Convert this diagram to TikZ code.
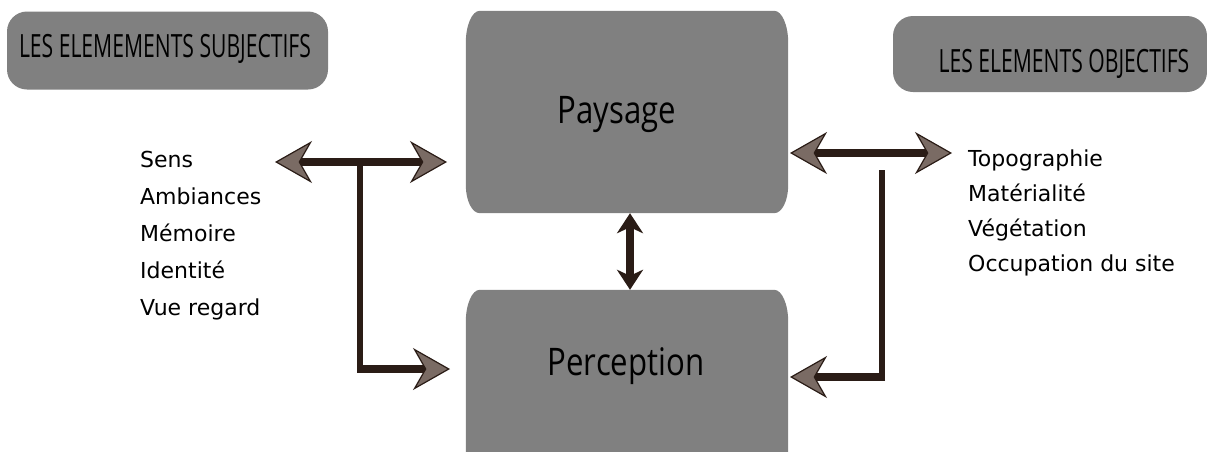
\documentclass[tikz,border=0pt]{standalone}
\usepackage{fontspec}
\setmainfont{Open Sans}
\newfontfamily\listfont{DejaVu Sans}
\usetikzlibrary{arrows.meta}
\definecolor{boxgray}{RGB}{128,128,128}
\definecolor{shaftbrown}{RGB}{42,28,22}
\definecolor{tipbrown}{RGB}{122,107,100}
\newcommand{\squeezed}[2]{\scalebox{#1}[1]{#2}}
% box with flattened (elliptical) corners, drawn from a node's anchors
\newcommand{\capsule}[1]{%
  \fill[boxgray] ([xshift=14pt]#1.north west) -- ([xshift=-14pt]#1.north east)
    arc[start angle=90, end angle=0, x radius=14pt, y radius=32pt]
    -- ([yshift=28pt]#1.south east)
    arc[start angle=0, end angle=-90, x radius=14pt, y radius=28pt]
    -- ([xshift=14pt]#1.south west)
    arc[start angle=270, end angle=180, x radius=14pt, y radius=28pt]
    -- ([yshift=-32pt]#1.north west)
    arc[start angle=180, end angle=90, x radius=14pt, y radius=32pt] -- cycle;}

\begin{document}
\begin{tikzpicture}[
  x=1pt, y=-1pt,
  bighead/.tip={Stealth[length=37pt, width=42pt, inset=12pt, line width=1.2pt,
                        fill=tipbrown, color=shaftbrown]},
  smallhead/.tip={Stealth[length=20pt, width=26pt, inset=6pt, color=shaftbrown]},
  head/.style={fill=boxgray, rounded corners=20pt, inner sep=0pt},
  headtext/.style={font=\fontsize{32}{32}\selectfont, inner sep=0pt, anchor=base},
  mainbox/.style={minimum width=322pt, inner sep=0pt},
  maintext/.style={font=\fontsize{38}{38}\selectfont, inner sep=0pt, anchor=base},
  items/.style={font=\listfont\fontsize{22}{37}\selectfont, align=left,
                inner sep=0pt, anchor=north west},
  link/.style={shaftbrown, line width=8pt},
  stem/.style={shaftbrown, line width=6pt}
]
\useasboundingbox (0,0) rectangle (1207,451);

% titles
\node[head, minimum width=321pt, minimum height=78pt] (subj) at (167.5,50.5) {};
\node[headtext] (subjt) at (165,57) {\squeezed{0.66}{LES ELEMEMENTS SUBJECTIFS}};
\node[head, minimum width=314pt, minimum height=76pt] (obj) at (1050,54) {};
\node[headtext] (objt) at (1064,72) {\squeezed{0.66}{LES ELEMENTS OBJECTIFS}};

% central boxes
\node[mainbox, minimum height=202pt] (pay) at (627,112) {};
\capsule{pay}
\node[mainbox, minimum height=190pt] (per) at (627,385) {};
\capsule{per}
\node[maintext] (payt) at (617,123) {\squeezed{0.82}{Paysage}};
\node[maintext] (pert) at (626,375) {\squeezed{0.82}{Perception}};

% lists
\node[items] (subl) at (140,151)
  {Sens\\Ambiances\\Mémoire\\Identité\\Vue regard};
\node[items, font=\listfont\fontsize{22}{35}\selectfont] (objl) at (968,150)
  {Topographie\\Matérialité\\Végétation\\Occupation du site};

% left arrows
\coordinate (sl) at (275,162);
\coordinate (sr) at (447,162);
\coordinate (stop) at (360,166);
\coordinate (sbot) at (360,373);
\coordinate (sfrom) at (357,369);
\coordinate (sto) at (450,369);
\draw[link, {bighead}-{bighead}] (sl) -- (sr);
\draw[stem] (stop) -- (sbot);
\draw[link, -{bighead}] (sfrom) -- (sto);

% right arrows
\coordinate (ol) at (790,153);
\coordinate (or) at (952,153);
\coordinate (otop) at (882,170);
\coordinate (obot) at (882,381);
\coordinate (ofrom) at (885,377);
\coordinate (oto) at (790,377);
\draw[link, {bighead}-{bighead}] (ol) -- (or);
\draw[stem] (otop) -- (obot);
\draw[link, -{bighead}] (ofrom) -- (oto);

% between the boxes
\draw[link, {smallhead}-{smallhead}] ([xshift=3pt]pay.south) -- ([xshift=3pt]per.north);
\end{tikzpicture}
\end{document}
